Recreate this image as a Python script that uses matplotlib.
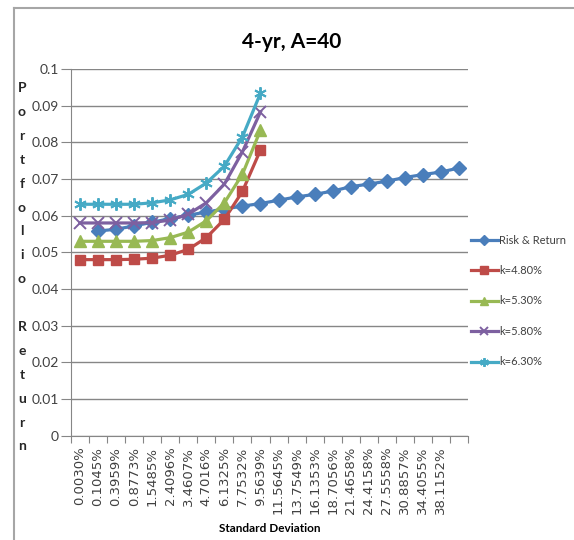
import numpy as np
import matplotlib
matplotlib.use("Agg")
import matplotlib.pyplot as plt
from matplotlib.lines import Line2D

plt.rcParams['font.family'] = ['Lato', 'DejaVu Sans']

# Categorias del eje X (desviacion estandar)
std_labels = ['0.0030%', '0.1045%', '0.3959%', '0.8773%', '1.5485%', '2.4096%',
              '3.4607%', '4.7016%', '6.1325%', '7.7532%', '9.5639%', '11.5645%',
              '13.7549%', '16.1353%', '18.7056%', '21.4658%', '24.4158%', '27.5558%',
              '30.8857%', '34.4055%', '38.1152%', '']

# Rendimiento de la cartera para cada serie
risk_return = [0.0558, 0.0563, 0.0572, 0.0582, 0.0592, 0.0601, 0.0610, 0.0618,
               0.0626, 0.0633, 0.0642, 0.0651, 0.0658, 0.0667, 0.0679, 0.0686,
               0.0694, 0.0704, 0.0712, 0.0719, 0.0730]
k480 = [0.0480, 0.0480, 0.0480, 0.0481, 0.0484, 0.0492, 0.0508, 0.0540, 0.0590, 0.0666, 0.0779]
k530 = [0.0530, 0.0530, 0.0530, 0.0530, 0.0532, 0.0540, 0.0555, 0.0586, 0.0635, 0.0713, 0.0833]
k580 = [0.0580, 0.0580, 0.0580, 0.0580, 0.0581, 0.0588, 0.0604, 0.0635, 0.0686, 0.0774, 0.0883]
k630 = [0.0631, 0.0631, 0.0631, 0.0631, 0.0635, 0.0643, 0.0658, 0.0689, 0.0735, 0.0815, 0.0934]

y_ticks = [0, 0.01, 0.02, 0.03, 0.04, 0.05, 0.06, 0.07, 0.08, 0.09, 0.1]
y_tick_labels = ['0', '0.01', '0.02', '0.03', '0.04', '0.05', '0.06', '0.07', '0.08', '0.09', '0.1']

W, H = 574, 540
fig = plt.figure(figsize=(W / 100, H / 100), dpi=100)

# marco del grafico (solo borde izquierdo y superior quedan dentro)
frame_kw = dict(transform=fig.transFigure, color='#a6a6a6', lw=1.5)
fig.add_artist(Line2D([14 / W, 14 / W], [0, 1 - 8 / H], **frame_kw))
fig.add_artist(Line2D([14 / W, 1], [1 - 8 / H, 1 - 8 / H], **frame_kw))

ax = fig.add_axes([71 / W, 1 - 435.6 / H, (468 - 71) / W, (435.6 - 69) / H])

n = len(std_labels)
x_all = np.arange(1, n + 1)
x_k = x_all[:len(k480)]
x_rr = x_all[1:1 + len(risk_return)]

grey = '#868686'
ax.plot(x_rr, risk_return, color='#4a7ebb', lw=2.3, marker='D', ms=7, label='Risk & Return')
ax.plot(x_k, k480, color='#be4b48', lw=2.3, marker='s', ms=7.5, label='k=4.80%')
ax.plot(x_k, k530, color='#98b954', lw=2.3, marker='^', ms=8, label='k=5.30%')
ax.plot(x_k, k580, color='#7d60a0', lw=2.3, marker='x', ms=8, mew=1.4, label='k=5.80%')
ax.plot(x_k, k630, color='#46aac5', lw=2.3, marker=(6, 2, 0), ms=9, mew=1.4, label='k=6.30%')

ax.set_xlim(0.5, n + 0.5)
ax.set_ylim(0, 0.1)
ax.set_yticks(y_ticks)
ax.set_yticklabels(y_tick_labels, fontsize=10, color='#404040')
ax.yaxis.grid(True, color=grey, lw=1)
ax.set_axisbelow(True)

ax.set_xticks(np.arange(0.5, n + 1.5, 1))
ax.set_xticklabels([])
ax.set_xticks(x_all, minor=True)
ax.set_xticklabels(std_labels, minor=True, rotation=90, fontsize=9.5,
                   family='DejaVu Sans', color='#404040')
ax.tick_params(axis='x', which='major', length=5, color=grey)
ax.tick_params(axis='x', which='minor', length=0, pad=8)
ax.tick_params(axis='y', length=7, color=grey, pad=2)

for s in ['top', 'right']:
    ax.spines[s].set_visible(False)
for s in ['left', 'bottom']:
    ax.spines[s].set_color(grey)

fig.text(292 / W, 1 - 42 / H, '4-yr, A=40', ha='center', va='center',
         fontsize=15, fontweight='bold')
fig.text(270 / W, 1 - 528 / H, 'Standard Deviation', ha='center', va='center',
         fontsize=8.5, fontweight='bold')

# etiqueta vertical letra por letra
ylabel = 'Portfolio Return'
for i, ch in enumerate(ylabel):
    fig.text(22 / W, 1 - (88 + i * 23.9) / H, ch, ha='center', va='center',
             fontsize=10, fontweight='bold', color='#262626')

fig.legend(loc='center left', bbox_to_anchor=(471 / W, 1 - 301 / H), frameon=False,
           fontsize=8, handlelength=2.4, handletextpad=0.15, labelspacing=1.75,
           borderpad=0, borderaxespad=0, labelcolor='#404040', markerscale=0.7)

fig.savefig('out.png', dpi=100)
